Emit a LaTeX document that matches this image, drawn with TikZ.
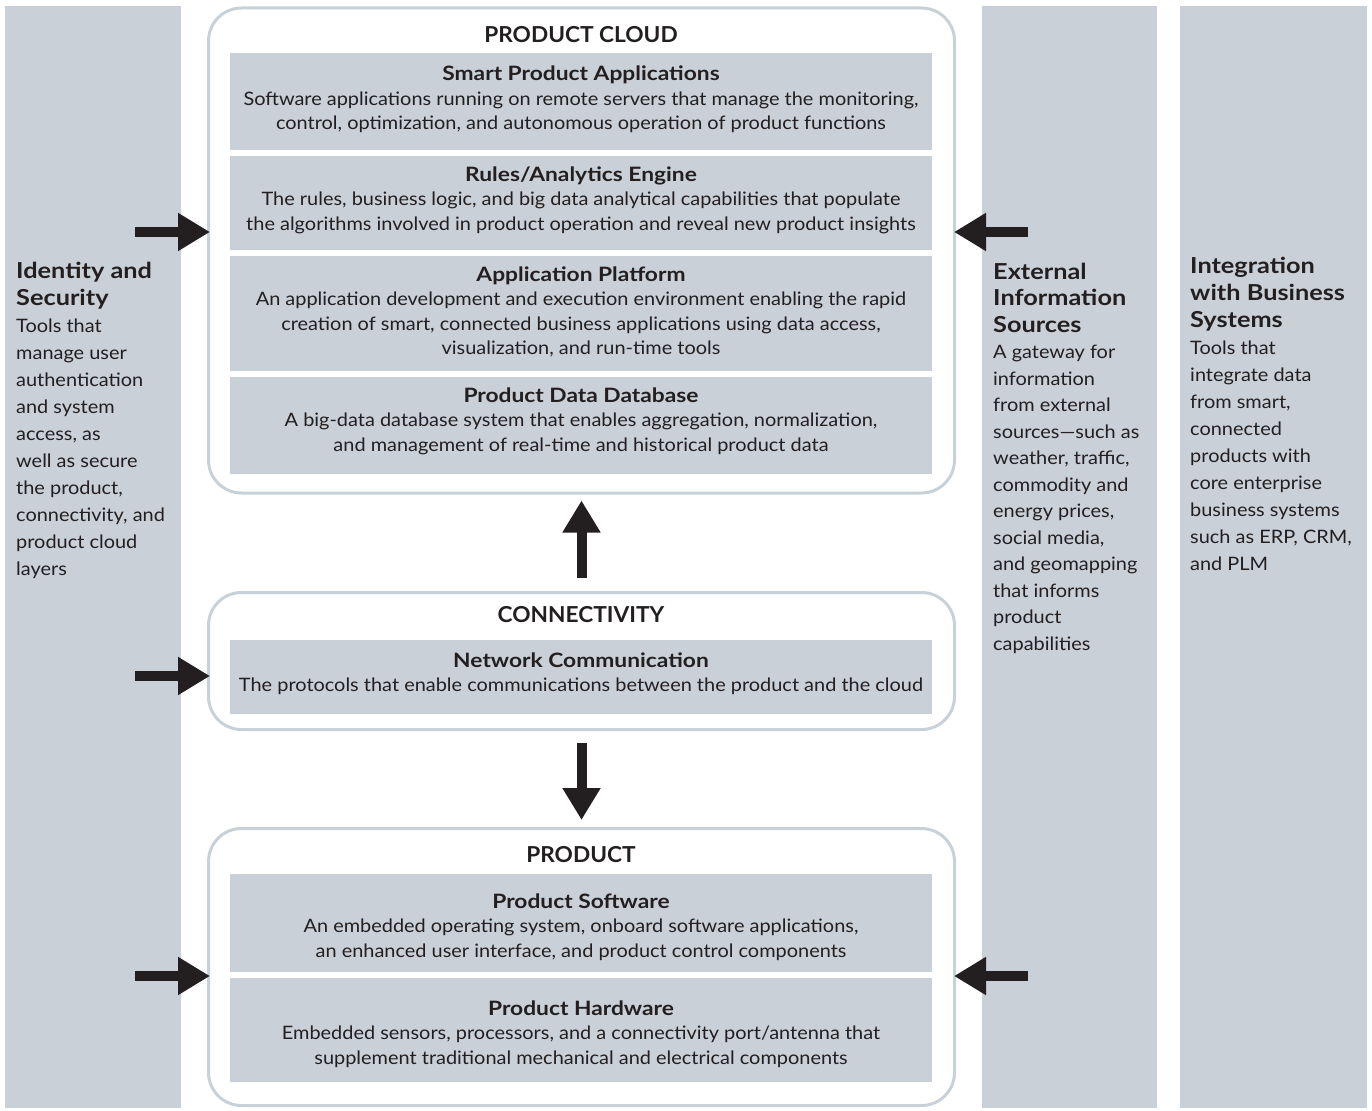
\documentclass[tikz,border=0pt]{standalone}
\usepackage{fontspec}
\setmainfont{Lato}[FakeStretch=1.077]
\newfontfamily\bfam{Lato}[FakeStretch=1.15]
\newfontfamily\hfam{Lato}[FakeStretch=1.03]
\usetikzlibrary{arrows.meta}
\definecolor{panel}{HTML}{C9D0D7}
\definecolor{ink}{HTML}{231F20}
\definecolor{rim}{HTML}{C9D1D8}
\tikzset{
 panelbox/.style={fill=panel, draw=none, inner sep=0pt},
 layer/.style={draw=rim, line width=3pt, rounded corners=33pt, fill=white, inner sep=0pt},
 inbox/.style={fill=panel, draw=none, inner sep=0pt, minimum width=702pt},
 boxtext/.style={align=center, text=ink, font=\fontsize{18.5}{24.5}\selectfont, inner sep=0pt, anchor=base},
 layertitle/.style={font=\hfam\bfseries\fontsize{22}{25}\selectfont, text=ink, inner sep=0pt, anchor=base},
 sidetext/.style={font=\fontsize{18.5}{27}\selectfont, align=left, anchor=base west, inner sep=0pt, text=ink},
 bigarrow/.style={draw=ink, line width=10pt, -{Triangle[length=32pt,width=36pt]}},
}
\newcommand{\bt}[1]{{\bfam\bfseries\fontsize{19.8}{24.5}\selectfont #1}}
\newcommand{\sh}[1]{{\bfam\bfseries\fontsize{22}{27}\selectfont #1}}
\begin{document}
\begin{tikzpicture}[x=1pt,y=-1pt]
\useasboundingbox (0,0) rectangle (1372,1110);
% side panels
\node[panelbox, minimum width=176pt, minimum height=1102pt] (idp) at (93,557) {};
\node[panelbox, minimum width=175pt, minimum height=1102pt] (extp) at (1069.5,557) {};
\node[panelbox, minimum width=187pt, minimum height=1102pt] (intp) at (1273.5,557) {};
% layers
\node[layer, minimum width=746pt, minimum height=485pt] (cloud) at (581.5,250.5) {};
\node[layer, minimum width=746pt, minimum height=137pt] (conn) at (581.5,661) {};
\node[layer, minimum width=746pt, minimum height=277pt] (prod) at (581.5,967) {};
% inner boxes
\node[inbox, minimum height=97pt] (spa) at (581,101.5) {};
\node[inbox, minimum height=94pt] (rae) at (581,203) {};
\node[inbox, minimum height=115pt] (app) at (581,313.5) {};
\node[inbox, minimum height=97pt] (pdd) at (581,425.5) {};
\node[inbox, minimum height=74pt] (net) at (581,677) {};
\node[inbox, minimum height=98pt] (psw) at (581,923) {};
\node[inbox, minimum height=104pt] (phw) at (581,1030) {};
% layer titles
\node[layertitle] (cloud-t) at (581,43) {PRODUCT CLOUD};
\node[layertitle] (conn-t) at (581,622) {CONNECTIVITY};
\node[layertitle] (prod-t) at (581,862) {PRODUCT};
% inner texts (anchor = baseline of last line)
\node[boxtext] (spa-t) at (581,130) {\bt{Smart Product Applications}\\Software applications running on remote servers that manage the monitoring,\\control, optimization, and autonomous operation of product functions};
\node[boxtext] (rae-t) at (581,230) {\bt{Rules/Analytics Engine}\\The rules, business logic, and big data analytical capabilities that populate\\the algorithms involved in product operation and reveal new product insights};
\node[boxtext] (app-t) at (581,354.5) {\bt{Application Platform}\\An application development and execution environment enabling the rapid\\creation of smart, connected business applications using data access,\\visualization, and run-time tools};
\node[boxtext] (pdd-t) at (581,451) {\bt{Product Data Database}\\A big-data database system that enables aggregation, normalization,\\and management of real-time and historical product data};
\node[boxtext] (net-t) at (581,691.5) {\bt{Network Communication}\\The protocols that enable communications between the product and the cloud};
\node[boxtext] (psw-t) at (581,957) {\bt{Product Software}\\An embedded operating system, onboard software applications,\\an enhanced user interface, and product control components};
\node[boxtext] (phw-t) at (581,1064) {\bt{Product Hardware}\\Embedded sensors, processors, and a connectivity port/antenna that\\supplement traditional mechanical and electrical components};
% side texts (anchor = baseline of last line)
\node[sidetext] (idp-t) at (16,575) {\sh{Identity and}\\\sh{Security}\\Tools that\\manage user\\authentication\\and system\\access, as\\well as secure\\the product,\\connectivity, and\\product cloud\\layers};
\node[sidetext, font=\fontsize{18.5}{26.5}\selectfont] (extp-t) at (993,650) {\sh{External}\\\sh{Information}\\\sh{Sources}\\A gateway for\\information\\from external\\sources—such as\\weather, traffic,\\commodity and\\energy prices,\\social media,\\and geomapping\\that informs\\product\\capabilities};
\node[sidetext] (intp-t) at (1190,570) {\sh{Integration}\\\sh{with Business}\\\sh{Systems}\\Tools that\\integrate data\\from smart,\\connected\\products with\\core enterprise\\business systems\\such as ERP, CRM,\\and PLM};
% arrows
\coordinate (a1) at (135,232);
\coordinate (a2) at (135,676);
\coordinate (a3) at (135,976);
\coordinate (b1) at (1028,232);
\coordinate (b3) at (1028,976);
\draw[bigarrow, shorten >=-3pt] (a1) -- (a1 -| cloud.west);
\draw[bigarrow, shorten >=-3pt] (a2) -- (a2 -| conn.west);
\draw[bigarrow, shorten >=-3pt] (a3) -- (a3 -| prod.west);
\draw[bigarrow, shorten >=-2pt] (b1) -- (b1 -| cloud.east);
\draw[bigarrow, shorten >=-2pt] (b3) -- (b3 -| prod.east);
\draw[bigarrow, shorten <=13pt, shorten >=6pt] (conn.north) -- (cloud.south);
\draw[bigarrow, shorten <=12pt, shorten >=7pt] (conn.south) -- (prod.north);
\end{tikzpicture}
\end{document}
